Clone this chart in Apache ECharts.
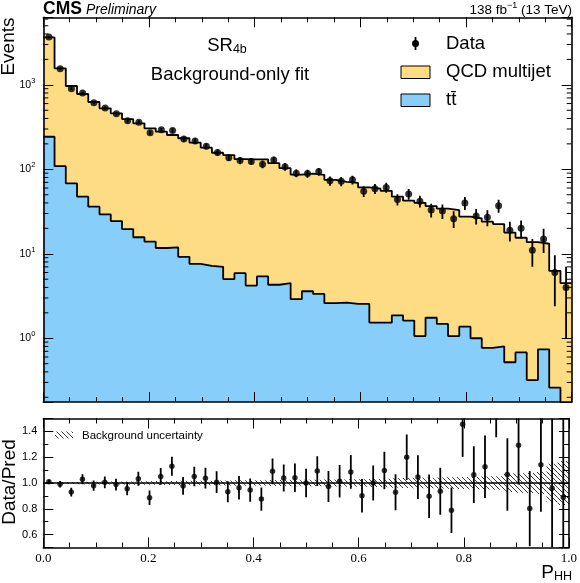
<!DOCTYPE html>
<html>
<head>
<meta charset="utf-8">
<title>SR4b background-only fit, P_HH</title>
<script src="https://cdn.jsdelivr.net/npm/echarts@6.0.0/dist/echarts.min.js"></script>
<style>
  html, body { margin: 0; padding: 0; background: #fff; }
  #chart { width: 580px; height: 583px; }
</style>
</head>
<body>
<div id="chart"></div>
<script>
// 47 equal bins of P_HH in [0, 1]
const nBins = 47;
const binEdges = [];
for (let i = 0; i <= nBins; i++) binEdges.push(i / nBins);

// post-fit backgrounds per bin (events)
const ttbar = [243, 109, 68, 47.4, 36.1, 29.3, 24.4, 19.6, 15.7, 13.9, 11.7, 11.9, 9.2, 7.6, 7.2, 7.0,
  5.0, 5.9, 4.2, 5.4, 4.3, 4.5, 2.9, 3.6, 3.35, 2.6, 2.64, 2.55, 2.55, 1.53, 1.53, 1.87, 1.62, 1.06,
  1.75, 1.48, 1.06, 1.37, 1.0, 0.77, 0.8, 0.52, 0.68, 0.32, 0.74, 0.26, 0.1];
const qcd = [3407, 1458, 900, 731, 590, 498, 436, 374, 334, 292, 267, 243, 224, 199, 173, 150,
  142, 126, 127, 126, 114, 98.5, 83.6, 85.4, 82.7, 72.4, 68.4, 66.5, 58.5, 57.5, 54.1, 45.5, 40.9,
  39.1, 35.0, 32.7, 31.9, 26.1, 25.3, 23.2, 21.7, 17.3, 14.8, 13.4, 12.4, 6.0, 4.4];

// observed events and their error bars
const dataEvents = [3687, 1551, 900, 801, 613, 530, 455, 376, 361, 271, 293, 288, 228, 217, 187, 158,
  137, 127, 124, 115, 129, 107, 90, 89, 94, 73, 72, 75, 55, 59, 61, 44, 51, 42, 33, 32, 26, 40, 28,
  27, 37, 19, 20, 11, 15, 6, 4];
const dataErr = [55, 39, 33, 30, 25, 24, 21, 20, 19, 17, 18, 19, 16, 15.5, 14.4, 13.3, 12, 12, 11.8,
  11.8, 11.8, 10.8, 9.5, 9.8, 9.9, 9.0, 8.9, 9.0, 7.9, 8.0, 8.1, 6.6, 7.5, 6.8, 6.2, 6.2, 5.8, 7.0,
  5.8, 5.8, 6.5, 5.0, 4.7, 4.0, 4.8, 3.6, 3.0];

// relative background uncertainty (hatched band in the ratio)
const bkgUnc = [0.007, 0.008, 0.008, 0.009, 0.010, 0.011, 0.012, 0.012, 0.013, 0.014, 0.015, 0.016,
  0.017, 0.017, 0.018, 0.019, 0.020, 0.021, 0.022, 0.022, 0.023, 0.024, 0.025, 0.025, 0.026, 0.027,
  0.028, 0.029, 0.030, 0.031, 0.032, 0.036, 0.038, 0.040, 0.041, 0.043, 0.045, 0.046, 0.048, 0.050,
  0.052, 0.070, 0.075, 0.078, 0.085, 0.150, 0.170];

// minor tick multipliers on the log axis
const logDecades = [0.1, 1, 10, 100, 1000];
const logMinorMult = [2, 3, 4, 5, 6, 7, 8, 9];

const yMin = 0.176, yMax = 6300;
const FONT = '"Liberation Sans", Arial, Helvetica, sans-serif';
const SERIF = '"Liberation Serif", "Times New Roman", serif';
const cQCD = '#FEDC84';
const cTT = '#87CEFA';

var myChart = echarts.init(document.getElementById('chart'));

const centers = binEdges.slice(0, nBins).map((e, i) => (e + binEdges[i + 1]) / 2);
// stacked prediction = QCD on top of ttbar
const pred = qcd.map((v, i) => v + ttbar[i]);
const ratio = dataEvents.map((v, i) => v / pred[i]);
const ratioErr = dataErr.map((e, i) => e / pred[i]);

// histogram as steps: a point on every lower edge, plus one closing the last bin
const stepPoints = (vals) => {
  const pts = vals.map((v, i) => [binEdges[i], v]);
  pts.push([binEdges[nBins], vals[nBins - 1]]);
  return pts;
};

const logMinor = [];
logDecades.forEach((d) => {
  logMinorMult.forEach((m) => {
    const v = m * d;
    if (v > yMin && v < yMax) logMinor.push([0, v]);
  });
});

// hatch pattern
const hatch = document.createElement('canvas');
hatch.width = 5;
hatch.height = 5;
const hc = hatch.getContext('2d');
hc.strokeStyle = '#222';
hc.lineWidth = 0.9;
hc.beginPath();
hc.moveTo(0, 0); hc.lineTo(5, 5);
hc.moveTo(-1, 4); hc.lineTo(1, 6);
hc.moveTo(4, -1); hc.lineTo(6, 1);
hc.stroke();
const hatchFill = { image: hatch, repeat: 'repeat' };

const tickStyle = { color: '#000', width: 1 };
const frameLine = { show: true, onZero: false, lineStyle: { color: '#000', width: 1.6 } };

const xAx = (grid, pos, labels) => ({
  type: 'value', gridIndex: grid, position: pos, min: 0, max: 1, interval: 0.2, z: 10,
  axisLine: frameLine,
  axisTick: { show: true, inside: true, length: 10, lineStyle: tickStyle },
  minorTick: { show: true, splitNumber: 4, length: 5, lineStyle: tickStyle },
  splitLine: { show: false },
  axisLabel: labels
    ? { show: true, margin: 5, color: '#000', fontFamily: SERIF, fontSize: 13,
        formatter: (v) => v.toFixed(1) }
    : { show: false }
});

const logAx = (pos, labels) => ({
  type: 'log', logBase: 10, gridIndex: 0, position: pos, min: yMin, max: yMax, z: 10,
  axisLine: frameLine,
  axisTick: { show: true, inside: true, length: 10, lineStyle: tickStyle },
  minorTick: { show: false },
  splitLine: { show: false },
  axisLabel: labels
    ? {
        show: true, margin: 8, color: '#000',
        formatter: function (v) {
          const e = Math.round(Math.log10(v));
          if (Math.abs(v / Math.pow(10, e) - 1) > 1e-6) return '';
          return '{b|10}{e|' + e + '}';
        },
        rich: {
          b: { fontFamily: FONT, fontSize: 10.5, color: '#000' },
          e: { fontFamily: FONT, fontSize: 7.5, color: '#000', padding: [0, 0, 8, 0] }
        }
      }
    : { show: false }
});

const ratioAx = (pos, labels) => ({
  type: 'value', gridIndex: 1, position: pos, min: 0.5, max: 1.5, splitNumber: 5, z: 10,
  axisLine: frameLine,
  axisTick: { show: true, inside: true, length: 10, lineStyle: tickStyle },
  minorTick: { show: true, splitNumber: 2, length: 5, lineStyle: tickStyle },
  splitLine: { show: false },
  axisLabel: labels
    ? { show: true, margin: 6, color: '#000', fontFamily: FONT, fontSize: 11,
        formatter: (v) => (Math.abs(v * 5 - Math.round(v * 5)) < 1e-6 ? v.toFixed(1) : '') }
    : { show: false }
});

const vBar = (params, api) => {
  const p1 = api.coord([api.value(0), api.value(1)]);
  const p2 = api.coord([api.value(0), api.value(2)]);
  return { type: 'line', shape: { x1: p1[0], y1: p1[1], x2: p2[0], y2: p2[1] },
    style: { stroke: '#000', lineWidth: 1.8 } };
};

var option = {
  animation: false,
  backgroundColor: '#fff',
  textStyle: { fontFamily: FONT },
  grid: [
    { left: 43.3, right: 8.3, top: 17.3, height: 384.7 },
    { left: 43.3, right: 8.3, top: 418.5, height: 129 }
  ],
  xAxis: [xAx(0, 'bottom', false), xAx(0, 'top', false), xAx(1, 'bottom', true), xAx(1, 'top', false)],
  yAxis: [logAx('left', true), logAx('right', false), ratioAx('left', true), ratioAx('right', false)],
  series: [
    {
      // QCD multijet stacked on ttbar: outline at the total prediction
      name: 'QCD multijet', type: 'line', xAxisIndex: 0, yAxisIndex: 0, step: 'end',
      data: stepPoints(pred), symbol: 'none', z: 2,
      lineStyle: { color: '#000', width: 1.8 },
      areaStyle: { color: cQCD, opacity: 1, origin: 'start' }
    },
    {
      name: 'ttbar', type: 'line', xAxisIndex: 0, yAxisIndex: 0, step: 'end',
      data: stepPoints(ttbar), symbol: 'none', z: 3,
      lineStyle: { color: '#000', width: 1.8 },
      areaStyle: { color: cTT, opacity: 1, origin: 'start' }
    },
    {
      // minor ticks of the log axis, both sides
      type: 'custom', xAxisIndex: 0, yAxisIndex: 0, silent: true, z: 6,
      data: logMinor, encode: { x: 0, y: 1 },
      renderItem: function (params, api) {
        const l = api.coord([0, api.value(1)]);
        const r = api.coord([1, api.value(1)]);
        return { type: 'group', children: [
          { type: 'line', shape: { x1: l[0], y1: l[1], x2: l[0] + 5, y2: l[1] }, style: { stroke: '#000', lineWidth: 1 } },
          { type: 'line', shape: { x1: r[0] - 5, y1: r[1], x2: r[0], y2: r[1] }, style: { stroke: '#000', lineWidth: 1 } }
        ] };
      }
    },
    {
      type: 'custom', xAxisIndex: 0, yAxisIndex: 0, silent: true, z: 5, clip: true,
      data: centers.map((c, i) => [c, Math.max(dataEvents[i] - dataErr[i], 0.05), dataEvents[i] + dataErr[i]]),
      encode: { x: 0, y: [1, 2] },
      renderItem: vBar
    },
    {
      name: 'Data', type: 'scatter', xAxisIndex: 0, yAxisIndex: 0, z: 5, clip: true,
      data: centers.map((c, i) => [c, dataEvents[i]]),
      symbol: 'circle', symbolSize: 7, itemStyle: { color: '#000' }
    },
    {
      type: 'custom', xAxisIndex: 2, yAxisIndex: 2, silent: true, z: 2, clip: true,
      data: bkgUnc.map((u, i) => [binEdges[i], binEdges[i + 1], 1 - u, 1 + u]),
      encode: { x: [0, 1], y: [2, 3] },
      renderItem: function (params, api) {
        const a = api.coord([api.value(0), api.value(3)]);
        const b = api.coord([api.value(1), api.value(2)]);
        return { type: 'rect', shape: { x: a[0], y: a[1], width: b[0] - a[0], height: b[1] - a[1] },
          style: { fill: hatchFill } };
      }
    },
    {
      type: 'custom', xAxisIndex: 2, yAxisIndex: 2, silent: true, z: 5, clip: true,
      data: centers.map((c, i) => [c, ratio[i] - ratioErr[i], ratio[i] + ratioErr[i]]),
      encode: { x: 0, y: [1, 2] },
      renderItem: vBar
    },
    {
      type: 'scatter', xAxisIndex: 2, yAxisIndex: 2, z: 5, clip: true,
      data: centers.map((c, i) => [c, ratio[i]]),
      symbol: 'circle', symbolSize: 5.5, itemStyle: { color: '#000' },
      markLine: {
        silent: true, symbol: 'none', label: { show: false },
        lineStyle: { color: '#000', width: 1.5, type: 'solid' },
        data: [{ yAxis: 1 }]
      }
    }
  ],
  graphic: [
    { type: 'text', x: 43, y: 9, style: { text: 'CMS', fontFamily: FONT, fontWeight: 'bold', fontSize: 17.5, fill: '#000', align: 'left', verticalAlign: 'middle' } },
    { type: 'text', x: 86, y: 10, style: { text: 'Preliminary', fontFamily: FONT, fontStyle: 'italic', fontSize: 14, fill: '#000', align: 'left', verticalAlign: 'middle' } },
    { type: 'text', x: 572, y: 10, style: {
        text: '{a|138 fb}{s|\u22121}{a| (13 TeV)}', align: 'right', verticalAlign: 'middle',
        rich: { a: { fontFamily: FONT, fontSize: 13.5, fill: '#000' }, s: { fontFamily: FONT, fontSize: 9, fill: '#000', padding: [0, 0, 8, 0] } } } },
    { type: 'text', x: 9, y: 17.5, rotation: Math.PI / 2, style: { text: 'Events', fontFamily: FONT, fontSize: 19, fill: '#000', align: 'right', verticalAlign: 'middle' } },
    { type: 'text', x: 10, y: 482, rotation: Math.PI / 2, style: { text: 'Data/Pred', fontFamily: FONT, fontSize: 19, fill: '#000', align: 'center', verticalAlign: 'middle' } },
    { type: 'text', x: 572, y: 573, style: {
        text: '{p|P}{s|HH}', align: 'right', verticalAlign: 'middle',
        rich: { p: { fontFamily: FONT, fontSize: 19, fill: '#000' }, s: { fontFamily: FONT, fontSize: 12.5, fill: '#000', padding: [8, 0, 0, 0] } } } },
    { type: 'text', x: 227, y: 46, style: {
        text: '{a|SR}{s|4b}', align: 'center', verticalAlign: 'middle',
        rich: { a: { fontFamily: FONT, fontSize: 18.5, fill: '#000' }, s: { fontFamily: FONT, fontSize: 12.5, fill: '#000', padding: [8, 0, 0, 0] } } } },
    { type: 'text', x: 230, y: 75, style: { text: 'Background-only fit', fontFamily: FONT, fontSize: 18.5, fill: '#000', align: 'center', verticalAlign: 'middle' } },
    // legend
    { type: 'line', shape: { x1: 415.5, y1: 37, x2: 415.5, y2: 50 }, style: { stroke: '#000', lineWidth: 1.8 } },
    { type: 'circle', shape: { cx: 415.5, cy: 43.5, r: 3.5 }, style: { fill: '#000' } },
    { type: 'text', x: 446, y: 44, style: { text: 'Data', fontFamily: FONT, fontSize: 18.5, fill: '#000', align: 'left', verticalAlign: 'middle' } },
    { type: 'rect', shape: { x: 401, y: 66, width: 29, height: 12.5 }, style: { fill: cQCD, stroke: '#000', lineWidth: 1 } },
    { type: 'text', x: 446, y: 72, style: { text: 'QCD multijet', fontFamily: FONT, fontSize: 18.5, fill: '#000', align: 'left', verticalAlign: 'middle' } },
    { type: 'rect', shape: { x: 401, y: 94, width: 29, height: 12.5 }, style: { fill: cTT, stroke: '#000', lineWidth: 1 } },
    { type: 'text', x: 446, y: 100, style: { text: 't\u0074\u0304', fontFamily: FONT, fontSize: 18.5, fill: '#000', align: 'left', verticalAlign: 'middle' } },
    { type: 'rect', shape: { x: 55, y: 431.5, width: 18, height: 7 }, style: { fill: hatchFill } },
    { type: 'text', x: 82, y: 435.5, style: { text: 'Background uncertainty', fontFamily: FONT, fontSize: 11.5, fill: '#000', align: 'left', verticalAlign: 'middle' } }
  ]
};

myChart.setOption(option);
window.addEventListener('resize', function () {
  myChart.resize();
});
</script>
</body>
</html>
